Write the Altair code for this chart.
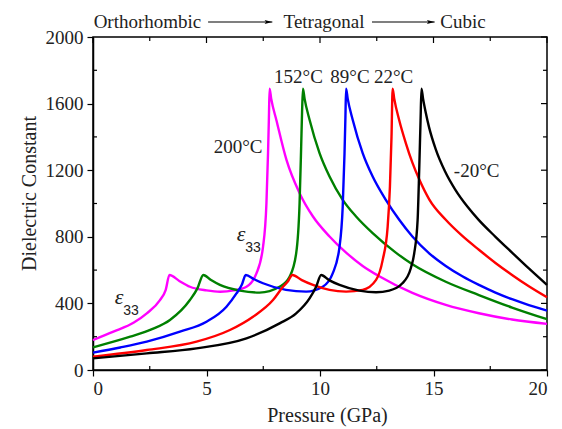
import altair as alt
import pandas as pd

# Dielectric constant eps33 vs pressure at five temperatures
series = ["200", "152", "89", "22", "-20"]
colors = ["#FF00FF", "#008000", "#0000FF", "#FF0000", "#000000"]

m_x = [0, 0.9, 1.8, 2.37, 2.95, 3.2, 3.37, 3.8, 4.27, 5.0, 5.6, 6.2, 6.76, 7.2, 7.49, 7.64, 7.71, 7.75, 7.78,
       7.85, 8.08, 8.52, 9.1, 9.69, 10.42, 11.15, 11.88, 12.61, 14.07, 15.54, 17.0, 18.46, 20]
m_y = [180, 230, 285, 340, 420, 480, 571, 535, 500, 478, 470, 478, 500, 580, 740, 1000, 1300, 1520, 1690,
       1630, 1500, 1263, 1062, 922, 802, 705, 625, 563, 463, 391, 341, 303, 277]

g_x = [0, 1.64, 2.6, 3.39, 4.27, 4.6, 4.86, 5.2, 5.59, 6.47, 7.34, 8.22, 8.66, 8.95, 9.1, 9.17, 9.21, 9.25,
       9.32, 9.54, 9.98, 10.42, 11.0, 11.59, 12.32, 13.34, 14.07, 15.54, 17.0, 18.46, 20]
g_y = [136, 200, 245, 300, 420, 490, 571, 540, 511, 477, 465, 500, 560, 700, 1000, 1340, 1550, 1690,
       1630, 1503, 1303, 1162, 1022, 922, 822, 705, 635, 530, 450, 375, 305]

b_x = [0, 1.2, 2.37, 3.83, 5.0, 5.88, 6.32, 6.55, 6.73, 7.1, 7.49, 8.5, 9.39, 10.12, 10.56, 10.86, 11.0, 11.08,
       11.12, 11.15, 11.22, 11.44, 11.88, 12.32, 12.9, 13.49, 14.07, 14.81, 15.54, 16.27, 17.0, 17.73, 18.46,
       19.2, 20]
b_y = [104, 135, 170, 230, 290, 380, 460, 510, 571, 545, 521, 481, 471, 500, 580, 740, 980, 1300,
       1520, 1690, 1630, 1503, 1303, 1162, 1022, 902, 802, 701, 625, 563, 511, 465, 425, 390, 357]

r_x = [0, 2.37, 4.56, 6.03, 7.05, 7.93, 8.37, 8.6, 8.78, 9.2, 9.69, 10.42, 11.15, 11.88, 12.47, 12.76, 12.98,
       13.08, 13.15, 13.2, 13.27, 13.49, 13.78, 14.07, 14.37, 14.81, 15.54, 16.27, 17.0, 17.73, 18.46, 19.2, 20]
r_y = [80, 120, 170, 240, 320, 420, 500, 535, 571, 540, 511, 481, 471, 481, 541, 660, 860,
       1100, 1400, 1690, 1630, 1500, 1363, 1245, 1145, 1025, 902, 805, 722, 643, 571, 503, 437]

k_x = [0, 2.37, 4.56, 6.76, 8.22, 8.95, 9.54, 9.83, 10.05, 10.4, 10.86, 11.73, 12.47, 13.05, 13.63, 14.0,
       14.15, 14.3, 14.37, 14.43, 14.47, 14.54, 14.66, 14.8, 15.1, 15.5, 15.95, 16.5, 17.0, 17.73, 18.46,
       19.2, 20]
k_y = [70, 100, 130, 190, 280, 340, 430, 500, 571, 540, 511, 477, 467, 477, 521, 611,
       700, 900, 1200, 1500, 1690, 1630, 1545, 1460, 1325, 1195, 1085, 980, 900, 800, 705, 610, 511]

xs = [m_x, g_x, b_x, r_x, k_x]
ys = [m_y, g_y, b_y, r_y, k_y]

rows = []
for name, sx, sy in zip(series, xs, ys):
    for i, (px, py) in enumerate(zip(sx, sy)):
        rows.append({"T": name, "P": px, "eps": py, "i": i})
df = pd.DataFrame(rows)

# temperature labels
lab_text = ["200°C", "152°C", "89°C", "22°C", "-20°C"]
lab_x = [6.39, 9.05, 11.32, 13.24, 16.9]
lab_y = [1339, 1760, 1760, 1760, 1195]
labels = pd.DataFrame({"t": lab_text, "x": lab_x, "y": lab_y})

# eps_33 annotations
eps_x = [1.15, 6.52]
eps_y = [438, 817]
epsdf = pd.DataFrame({"x": eps_x, "y": eps_y})

# phase sequence along the top
phase_text = ["Orthorhombic", "Tetragonal", "Cubic"]
phase_x = [2.40, 10.18, 16.3]
phase_y = 2090
arrow_x1 = [5.07, 12.29]
arrow_x2 = [7.9, 15.05]
phases = pd.DataFrame({"t": phase_text, "x": phase_x, "y": [phase_y] * 3})
arrows = pd.DataFrame({"x1": arrow_x1, "x2": arrow_x2, "y": [phase_y] * 2})

# tick positions
x_major = [0, 5, 10, 15, 20]
x_minor = [2.5, 7.5, 12.5, 17.5]
y_major = [0, 400, 800, 1200, 1600, 2000]
y_minor = [200, 600, 1000, 1400, 1800]

W, H = 454, 333
FONT = "Liberation Serif"
INK = "#222222"

xsc = alt.Scale(domain=[0, 20], nice=False, zero=False)
ysc = alt.Scale(domain=[0, 2000], nice=False, zero=False)

lines = alt.Chart(df).mark_line(strokeWidth=2.4, interpolate="monotone").encode(
    x=alt.X("P:Q", scale=xsc,
            axis=alt.Axis(title="Pressure (GPa)", values=x_major, format="d",
                          tickSize=6, labelPadding=3, titlePadding=7, titleX=234)),
    y=alt.Y("eps:Q", scale=ysc,
            axis=alt.Axis(title="Dielectric Constant", values=y_major, format="d",
                          tickSize=6, labelPadding=4, titlePadding=6, titleY=156)),
    color=alt.Color("T:N", scale=alt.Scale(domain=series, range=colors), legend=None),
    order="i:Q",
)


def xticks(vals, y0, y1):
    return alt.Chart(pd.DataFrame({"v": vals})).mark_rule(color="black", strokeWidth=1.2).encode(
        x=alt.X("v:Q", scale=xsc), y=alt.value(y0), y2=alt.value(y1))


def yticks(vals, x0, x1):
    return alt.Chart(pd.DataFrame({"v": vals})).mark_rule(color="black", strokeWidth=1.2).encode(
        y=alt.Y("v:Q", scale=ysc), x=alt.value(x0), x2=alt.value(x1))


ticks = [
    xticks(x_minor, H, H - 4),
    xticks(x_major, 0, 6),
    xticks(x_minor, 0, 4),
    yticks(y_minor, 0, 4),
    yticks(y_major, W, W - 6),
    yticks(y_minor, W, W - 4),
]

temp_text = alt.Chart(labels).mark_text(font=FONT, fontSize=19, color=INK).encode(
    x=alt.X("x:Q", scale=xsc), y=alt.Y("y:Q", scale=ysc), text="t:N")

eps_main = alt.Chart(epsdf).mark_text(font=FONT, fontSize=22, fontStyle="italic", color=INK).encode(
    x=alt.X("x:Q", scale=xsc), y=alt.Y("y:Q", scale=ysc), text=alt.value("ε"))
eps_sub = alt.Chart(epsdf).mark_text(font="Liberation Sans", fontSize=14, color=INK, dx=12, dy=14).encode(
    x=alt.X("x:Q", scale=xsc), y=alt.Y("y:Q", scale=ysc), text=alt.value("33"))

phase_txt = alt.Chart(phases).mark_text(font=FONT, fontSize=19, color=INK).encode(
    x=alt.X("x:Q", scale=xsc), y=alt.Y("y:Q", scale=ysc), text="t:N")
arrow_line = alt.Chart(arrows).mark_rule(color="black", strokeWidth=1.2).encode(
    x=alt.X("x1:Q", scale=xsc), x2="x2:Q", y=alt.Y("y:Q", scale=ysc))
arrow_head = alt.Chart(arrows).mark_point(
    shape="M-2,-0.5L0,0L-2,0.5L-1.6,0Z", filled=True, color="black", size=60, opacity=1).encode(
    x=alt.X("x2:Q", scale=xsc), y=alt.Y("y:Q", scale=ysc))

chart = alt.layer(
    lines, *ticks,
    temp_text, eps_main, eps_sub, phase_txt, arrow_line, arrow_head,
).properties(
    width=W, height=H,
    background="white",
    autosize=alt.AutoSizeParams(type="none"),
    padding={"left": 93, "top": 37, "right": 15, "bottom": 59},
).configure_view(
    stroke="black", strokeWidth=1.5
).configure_axis(
    labelFont=FONT, titleFont=FONT, labelFontSize=19, titleFontSize=20,
    labelColor=INK, titleColor=INK, titleFontWeight="normal",
    domainColor="black", tickColor="black", domainWidth=1.5, tickWidth=1.2, grid=False,
)

chart.save("out.html", embed_options={"renderer": "svg", "actions": False})
